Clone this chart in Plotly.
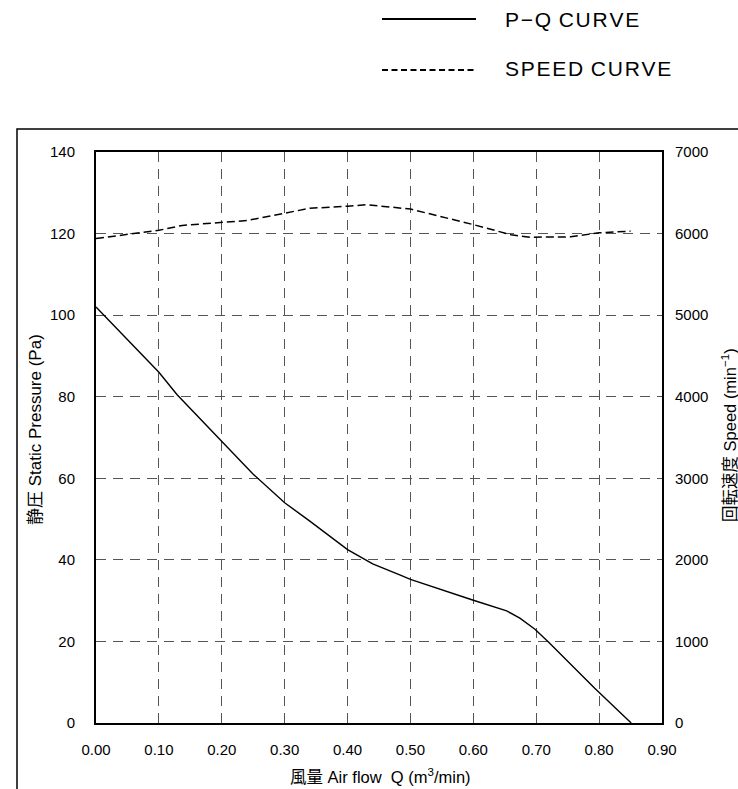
import plotly.graph_objects as go

# P-Q curve (Q in m3/min, P in Pa)
pq_q = [0.00, 0.05, 0.10, 0.129, 0.20, 0.25, 0.30, 0.34, 0.40, 0.44, 0.483, 0.50, 0.60, 0.653, 0.674, 0.698, 0.719, 0.793, 0.851]
pq_p = [102.0, 94.0, 86.0, 80.5, 69.0, 61.0, 54.0, 49.5, 42.5, 39.0, 36.3, 35.2, 30.1, 27.5, 25.7, 23.0, 19.9, 8.5, 0.0]

# Speed curve (Q in m3/min, speed in min^-1)
sp_q = [0.00, 0.10, 0.137, 0.20, 0.24, 0.30, 0.34, 0.40, 0.43, 0.50, 0.60, 0.66, 0.69, 0.755, 0.80, 0.85]
sp_n = [5940, 6040, 6100, 6140, 6160, 6250, 6310, 6335, 6355, 6300, 6110, 5985, 5955, 5960, 6010, 6030]

x_ticks = [0.0, 0.1, 0.2, 0.3, 0.4, 0.5, 0.6, 0.7, 0.8, 0.9]
x_labels = ["0.00", "0.10", "0.20", "0.30", "0.40", "0.50", "0.60", "0.70", "0.80", "0.90"]

FONT = "Liberation Sans, Arial, Noto Sans CJK JP, sans-serif"
GRID = "#555555"

fig = go.Figure()
fig.add_trace(go.Scatter(x=pq_q, y=pq_p, mode="lines", name="P-Q CURVE",
                         line=dict(color="black", width=1.4), showlegend=False))
fig.add_trace(go.Scatter(x=sp_q, y=sp_n, mode="lines", name="SPEED CURVE", yaxis="y2",
                         line=dict(color="black", width=1.5, dash="8px,4px"), showlegend=False))

L, R, T, B = 96, 76, 152, 66
W, H = 738, 789
pw, ph = W - L - R, H - T - B

def px(x):
    return (x - L) / pw

def py(y):
    return (H - B - y) / ph

fig.update_layout(
    width=W, height=H,
    margin=dict(l=L, r=R, t=T, b=B, autoexpand=False),
    paper_bgcolor="white", plot_bgcolor="white",
    font=dict(family=FONT, color="black", size=14),
    xaxis=dict(range=[0, 0.9], tickvals=x_ticks, ticktext=x_labels,
               showgrid=True, gridcolor=GRID, griddash="10px,7px", gridwidth=1,
               showline=True, linecolor="black", linewidth=2, mirror=True,
               ticks="", ticklabelstandoff=12, zeroline=False,
               tickfont=dict(size=15)),
    yaxis=dict(range=[0, 140], dtick=20,
               showgrid=True, gridcolor=GRID, griddash="10px,7px", gridwidth=1,
               showline=True, linecolor="black", linewidth=2, mirror=True,
               ticks="", ticklabelstandoff=16, zeroline=False,
               tickfont=dict(size=15)),
    yaxis2=dict(range=[0, 7000], dtick=1000, overlaying="y", side="right",
                showgrid=False, showline=False, zeroline=False,
                ticks="", ticklabelstandoff=12, tickfont=dict(size=15)),
)

# outer frame
fig.add_shape(type="rect", xref="paper", yref="paper",
              x0=px(17), x1=px(770), y0=py(810), y1=py(129),
              line=dict(color="black", width=1.5), fillcolor="rgba(0,0,0,0)", layer="below")

# legend symbols
fig.add_shape(type="line", xref="paper", yref="paper",
              x0=px(382), x1=px(476), y0=py(19), y1=py(19),
              line=dict(color="black", width=2))
fig.add_shape(type="line", xref="paper", yref="paper",
              x0=px(382), x1=px(476), y0=py(70), y1=py(70),
              line=dict(color="black", width=2, dash="6px,3.5px"))

hs = "\u200a"
def spaced(s):
    return hs.join(list(s))

fig.add_annotation(text=spaced("P\u2212Q") + " " + hs + spaced("CURVE"),
                   xref="paper", yref="paper", x=px(503), y=py(19.5),
                   xanchor="left", yanchor="middle", showarrow=False,
                   font=dict(size=21, family=FONT))
fig.add_annotation(text=spaced("SPEED") + " " + hs + spaced("CURVE"),
                   xref="paper", yref="paper", x=px(503), y=py(68.5),
                   xanchor="left", yanchor="middle", showarrow=False,
                   font=dict(size=21, family=FONT))

# axis titles
fig.add_annotation(text="風量 Air flow  Q (m<sup>3</sup>/min)",
                   xref="paper", yref="paper", x=px(380), y=py(776),
                   xanchor="center", yanchor="middle", showarrow=False,
                   font=dict(size=16.5, family=FONT))
fig.add_annotation(text="静圧 Static Pressure (Pa)", textangle=-90,
                   xref="paper", yref="paper", x=px(35), y=py(430),
                   xanchor="center", yanchor="middle", showarrow=False,
                   font=dict(size=17, family=FONT))
fig.add_annotation(text="回転速度 Speed (min<sup>\u22121</sup>)", textangle=-90,
                   xref="paper", yref="paper", x=px(729), y=py(435),
                   xanchor="center", yanchor="middle", showarrow=False,
                   font=dict(size=16.5, family=FONT))

fig.write_html("out.html", config={"displayModeBar": False},
               post_script="document.body.style.margin='0';document.body.style.overflow='hidden';")
